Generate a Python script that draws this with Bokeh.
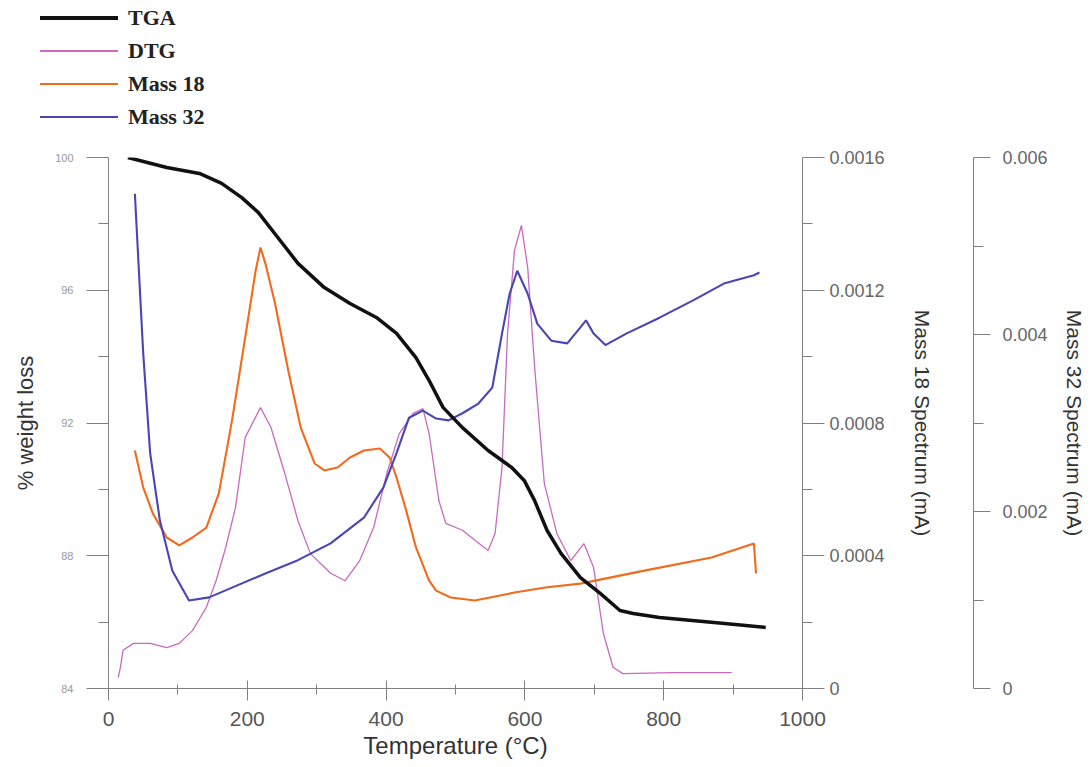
from bokeh.plotting import figure
from bokeh.layouts import column
from bokeh.models import (Range1d, LinearAxis, FixedTicker, NumeralTickFormatter, Div)
from bokeh.embed import file_html
from bokeh.resources import INLINE

# ---------------- data ----------------
tga_temp = [28, 84, 131, 163, 192, 216, 244, 273, 311, 348, 386, 415, 443, 462, 482,
            510, 547, 581, 599, 614, 632, 652, 680, 709, 737, 756, 794, 841, 888, 947]
tga_weight = [100.0, 99.70, 99.52, 99.22, 98.79, 98.34, 97.59, 96.81, 96.08, 95.60, 95.18,
              94.70, 93.97, 93.28, 92.47, 91.86, 91.17, 90.66, 90.27, 89.66, 88.76, 88.07,
              87.34, 86.86, 86.35, 86.26, 86.14, 86.05, 85.96, 85.84]

dtg_temp = [14, 17, 21, 36, 60, 84, 102, 121, 141, 155, 169, 183, 197, 219, 234, 254, 273,
            291, 320, 341, 362, 382, 401, 419, 439, 453, 462, 476, 486, 510, 528, 547, 557,
            567, 575, 585, 595, 604, 614, 628, 646, 666, 685, 699, 713, 727, 741, 812, 898]
dtg_value = [2.1, 3.9, 7.2, 8.5, 8.5, 7.7, 8.5, 10.9, 15.3, 20.3, 26.6, 34.1, 47.3, 52.9,
             49.2, 40.5, 31.6, 25.4, 21.7, 20.3, 24.1, 30.3, 40.5, 48.0, 51.8, 52.7, 48.0,
             35.4, 31.1, 29.8, 27.9, 26.0, 29.2, 41.6, 66.9, 82.5, 87.2, 79.3, 60.5, 38.6,
             29.2, 24.1, 27.3, 22.8, 10.4, 4.0, 2.8, 3.0, 3.0]

m18_temp = [38, 50, 64, 84, 102, 121, 141, 159, 178, 197, 212, 219, 226, 240, 259, 277,
            297, 311, 330, 348, 368, 391, 405, 415, 429, 443, 462, 472, 493, 528, 585, 632,
            680, 774, 869, 930, 933]
m18_value = [0.000717, 0.000606, 0.000527, 0.000455, 0.000431, 0.000455, 0.000485,
             0.000588, 0.000808, 0.001058, 0.001259, 0.001329, 0.001281, 0.001160,
             0.000958, 0.000786, 0.000678, 0.000657, 0.000666, 0.000696, 0.000717,
             0.000723, 0.000696, 0.000636, 0.000536, 0.000425, 0.000325, 0.000295,
             0.000274, 0.000265, 0.000289, 0.000305, 0.000316, 0.000356, 0.000395,
             0.000437, 0.000347]

m32_temp = [38, 50, 60, 74, 92, 116, 145, 178, 226, 273, 320, 368, 396, 415, 433, 453,
            472, 490, 510, 533, 553, 567, 578, 589, 604, 618, 638, 661, 680, 688, 699, 716,
            746, 794, 841, 888, 930, 938]
m32_value = [0.00559, 0.00379, 0.00266, 0.00190, 0.00133, 0.000994, 0.00103, 0.00114,
             0.00130, 0.00145, 0.00164, 0.00193, 0.00227, 0.00266, 0.00306, 0.00314,
             0.00305, 0.00303, 0.00311, 0.00322, 0.00340, 0.00401, 0.00446, 0.00472,
             0.00446, 0.00412, 0.00393, 0.00390, 0.00408, 0.00416, 0.00401, 0.00388,
             0.00401, 0.00419, 0.00438, 0.00458, 0.00467, 0.00470]

series_names = ["TGA", "DTG", "Mass 18", "Mass 32"]

x_ticks = [0, 200, 400, 600, 800, 1000]
x_minor = [100, 300, 500, 700, 900]
w_ticks = [84, 88, 92, 96, 100]
w_minor = [86, 90, 94, 98]
m18_ticks = [0, 0.0004, 0.0008, 0.0012, 0.0016]
m18_minor = [0.0002, 0.0006, 0.0010, 0.0014]
m32_ticks = [0, 0.002, 0.004, 0.006]
m32_minor = [0.001, 0.003, 0.005]

# ---------------- styles ----------------
SANS = "Liberation Sans"
AX = "#808080"
styles = {
    "TGA": dict(line_color="#111111", line_width=3.5),
    "DTG": dict(line_color="#c86ac2", line_width=1.3),
    "Mass 18": dict(line_color="#f26a1b", line_width=2.1),
    "Mass 32": dict(line_color="#4a45b5", line_width=2.1),
}

W = 1088
LEG_H = 140
MAIN_H = 625

# ---------------- legend strip (HTML) ----------------
rows_html = []
for i, name in enumerate(series_names):
    st = styles[name]
    top = 6 + i * 33
    rows_html.append(
        f'<div style="position:absolute;left:40px;top:{top}px;height:24px;'
        f'display:flex;align-items:center;white-space:nowrap">'
        f'<span style="display:inline-block;width:78px;height:{st["line_width"]}px;'
        f'background:{st["line_color"]}"></span>'
        f'<span style="margin-left:10px;line-height:24px">{name}</span></div>')
legend_html = (
    '<div style="position:relative;width:400px;height:140px;'
    "font-family:'Liberation Serif',serif;font-weight:bold;font-size:22px;color:#222222\">"
    + "".join(rows_html) + "</div>")
legend_div = Div(text=legend_html, width=W, height=LEG_H, margin=0)

# ---------------- main figure ----------------
p = figure(width=W, height=MAIN_H, x_range=Range1d(0, 1000), y_range=Range1d(84, 100),
           output_backend="svg", toolbar_location=None,
           min_border_left=108, min_border_top=17, min_border_right=276,
           min_border_bottom=77)
p.outline_line_color = None
p.xgrid.visible = False
p.ygrid.visible = False
p.extra_y_ranges = {"m18": Range1d(0, 0.0016), "m32": Range1d(0, 0.006),
                    "dtg": Range1d(0, 100)}

# x axis
xa = p.xaxis[0]
xa.ticker = FixedTicker(ticks=x_ticks, minor_ticks=x_minor)
xa.axis_label = "Temperature (°C)"
xa.axis_label_text_font = SANS
xa.axis_label_text_font_style = "normal"
xa.axis_label_text_font_size = "24px"
xa.axis_label_text_color = "#333333"
xa.axis_label_standoff = 3
xa.major_label_text_font = SANS
xa.major_label_text_font_size = "21px"
xa.major_label_text_color = "#555555"
xa.major_label_standoff = 11
xa.axis_line_color = AX
xa.major_tick_line_color = AX
xa.minor_tick_line_color = AX
xa.major_tick_in = 8
xa.major_tick_out = 12
xa.minor_tick_in = 4
xa.minor_tick_out = 6

# left axis
ya = p.yaxis[0]
ya.ticker = FixedTicker(ticks=w_ticks, minor_ticks=w_minor)
ya.axis_label = "% weight loss"
ya.axis_label_text_font = SANS
ya.axis_label_text_font_style = "normal"
ya.axis_label_text_font_size = "22px"
ya.axis_label_text_color = "#333333"
ya.axis_label_standoff = 14
ya.major_label_text_font = SANS
ya.major_label_text_font_size = "11px"
ya.major_label_text_color = "#999999"
ya.major_label_standoff = 13
ya.axis_line_color = AX
ya.major_tick_line_color = AX
ya.minor_tick_line_color = AX
ya.major_tick_in = 0
ya.major_tick_out = 22
ya.minor_tick_in = 0
ya.minor_tick_out = 10

# right axis : Mass 18
a18 = LinearAxis(y_range_name="m18", ticker=FixedTicker(ticks=m18_ticks, minor_ticks=m18_minor),
                 formatter=NumeralTickFormatter(format="0.[0000]"),
                 axis_label="Mass 18 Spectrum (mA)")
a18.axis_label_text_font = SANS
a18.axis_label_text_font_style = "normal"
a18.axis_label_text_font_size = "21px"
a18.axis_label_text_color = "#333333"
a18.axis_label_standoff = 23
a18.major_label_text_font = SANS
a18.major_label_text_font_size = "18px"
a18.major_label_text_color = "#666666"
a18.major_label_standoff = 5
a18.axis_line_color = AX
a18.major_tick_line_color = AX
a18.minor_tick_line_color = AX
a18.major_tick_in = 0
a18.major_tick_out = 22
a18.minor_tick_in = 0
a18.minor_tick_out = 10
p.add_layout(a18, "right")

# spacer between the two right axes
spacer = LinearAxis(y_range_name="m18", ticker=FixedTicker(ticks=[]), axis_label=" ",
                    axis_line_color=None, major_tick_line_color=None,
                    minor_tick_line_color=None, major_tick_out=0, minor_tick_out=0,
                    major_label_text_font_size="1px", axis_label_text_font_size="28px",
                    axis_label_standoff=3)
p.add_layout(spacer, "right")

# right axis : Mass 32
a32 = LinearAxis(y_range_name="m32", ticker=FixedTicker(ticks=m32_ticks, minor_ticks=m32_minor),
                 formatter=NumeralTickFormatter(format="0.[000]"),
                 axis_label="Mass 32 Spectrum (mA)")
a32.axis_label_text_font = SANS
a32.axis_label_text_font_style = "normal"
a32.axis_label_text_font_size = "21px"
a32.axis_label_text_color = "#333333"
a32.axis_label_standoff = 12
a32.major_label_text_font = SANS
a32.major_label_text_font_size = "18px"
a32.major_label_text_color = "#666666"
a32.major_label_standoff = 12
a32.axis_line_color = AX
a32.major_tick_line_color = AX
a32.minor_tick_line_color = AX
a32.major_tick_in = 0
a32.major_tick_out = 17
a32.minor_tick_in = 0
a32.minor_tick_out = 10
p.add_layout(a32, "right")

# ---------------- lines ----------------
p.line(dtg_temp, dtg_value, y_range_name="dtg", **styles["DTG"])
p.line(m18_temp, m18_value, y_range_name="m18", **styles["Mass 18"])
p.line(m32_temp, m32_value, y_range_name="m32", **styles["Mass 32"])
p.line(tga_temp, tga_weight, **styles["TGA"])

layout = column(legend_div, p, spacing=0)
open("out.html", "w").write(file_html(layout, INLINE))
